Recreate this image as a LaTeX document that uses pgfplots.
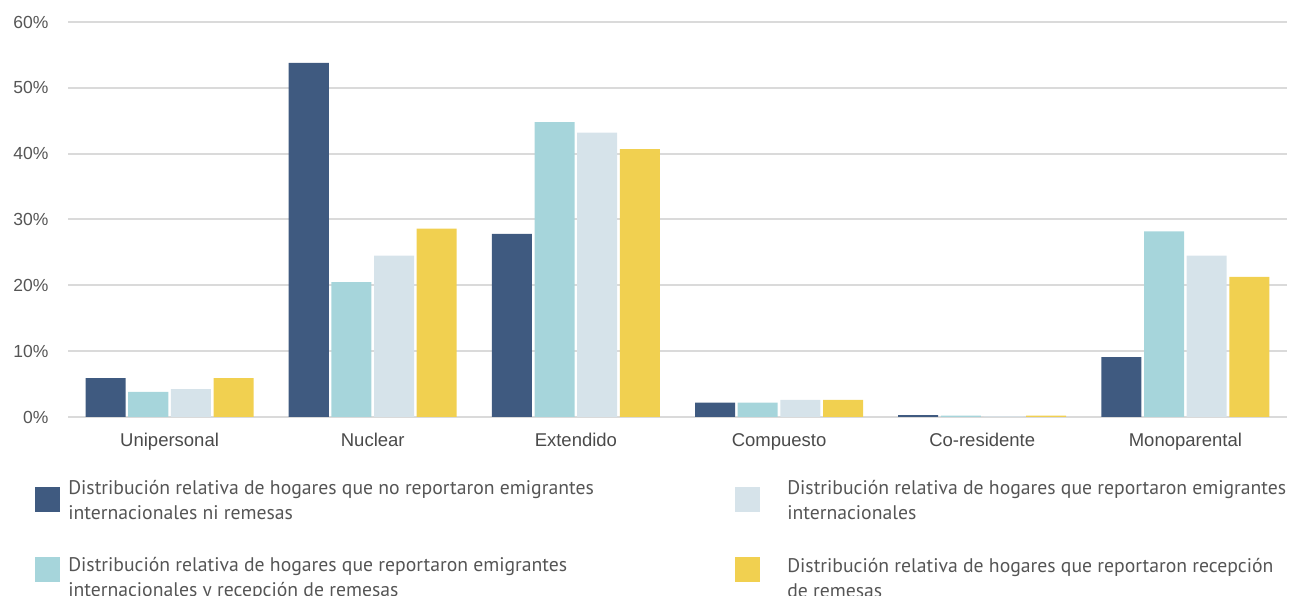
\documentclass[border=0pt]{standalone}
\usepackage{pgfplots}
\pgfplotsset{compat=1.18}
\usepackage{fontspec}
\setmainfont{Liberation Sans}
\newfontfamily\legfont{PT Sans}
\definecolor{c1}{HTML}{3F5A80}
\definecolor{c2}{HTML}{A6D5DB}
\definecolor{c3}{HTML}{D6E3EA}
\definecolor{c4}{HTML}{F1D050}
\definecolor{gridc}{HTML}{DADADA}
\definecolor{txt}{HTML}{555555}
\definecolor{cat}{HTML}{4A4A4A}
\newcommand{\legtxt}[2]{\parbox[c]{640pt}{\legfont\fontsize{19.7}{25}\selectfont\color{txt}#1\\#2}}
\newcommand{\legtxtB}[2]{\hspace*{19pt}\parbox[c]{520pt}{\legfont\fontsize{19.7}{25}\selectfont\color{txt}#1\\#2}}
\pgfplotsset{
  legA/.style={legend image code/.code={\fill[##1] (0pt,-20pt) rectangle (25pt,5pt);}},
  legB/.style={legend image code/.code={\fill[##1] (0pt,-12pt) rectangle (25pt,13pt);}},
}
\begin{document}
\begin{tikzpicture}[x=1pt,y=1pt]
\useasboundingbox (0,0) rectangle (1289,596);
\clip (0,0) rectangle (1289,596);
\begin{axis}[
  at={(68pt,179pt)}, anchor=south west,
  scale only axis, width=1219pt, height=395pt,
  xmin=-0.5, xmax=5.5, ymin=0, ymax=60,
  axis line style={draw=none},
  major tick length=0pt,
  ytick={0,10,...,60},
  yticklabel={\pgfmathprintnumber{\tick}\%},
  /pgf/number format/assume math mode=true,
  ymajorgrids, grid style={gridc, line width=2pt},
  xtick={0,...,5},
  xticklabels={Unipersonal,Nuclear,Extendido,Compuesto,Co-residente,Monoparental},
  yticklabel style={font=\fontsize{17.5}{20}\selectfont, color=txt, xshift=-16pt},
  xticklabel style={font=\fontsize{18.5}{20}\selectfont, color=cat, anchor=base, yshift=-30pt},
  ybar, bar width=0.197,
  legend columns=2, transpose legend,
  legend style={at={(-0.027,-0.16)}, anchor=north west, draw=none, fill=none,
    inner sep=0pt, nodes={inner sep=0pt},
    /tikz/every odd column/.append style={column sep=8pt},
    /tikz/every even column/.append style={column sep=27pt},
    row sep=44.5pt},
  legend cell align=left,
]
\addplot[fill=c1, draw=none, bar shift=-0.315, legA] coordinates {(0,5.9) (1,53.8) (2,27.8) (3,2.2) (4,0.3) (5,9.1)};
\addlegendentry{\legtxt{Distribución relativa de hogares que no reportaron emigrantes}{internacionales ni remesas}}
\addplot[fill=c2, draw=none, bar shift=-0.105, legB] coordinates {(0,3.8) (1,20.5) (2,44.8) (3,2.2) (4,0.2) (5,28.2)};
\addlegendentry{\legtxt{Distribución relativa de hogares que reportaron emigrantes}{internacionales y recepción de remesas}}
\addplot[fill=c3, draw=none, bar shift=0.105, legA] coordinates {(0,4.25) (1,24.5) (2,43.2) (3,2.6) (4,0.1) (5,24.5)};
\addlegendentry{\legtxtB{Distribución relativa de hogares que reportaron emigrantes}{internacionales}}
\addplot[fill=c4, draw=none, bar shift=0.315, legB] coordinates {(0,5.9) (1,28.6) (2,40.7) (3,2.6) (4,0.2) (5,21.3)};
\addlegendentry{\legtxtB{Distribución relativa de hogares que reportaron recepción}{de remesas}}
\end{axis}
\end{tikzpicture}
\end{document}
